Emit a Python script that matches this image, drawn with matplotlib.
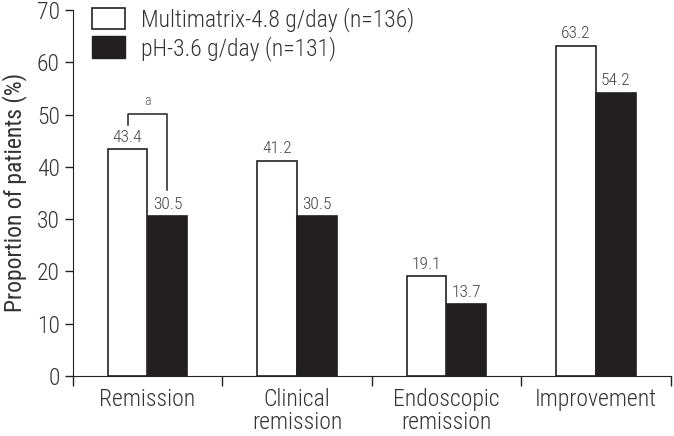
import matplotlib.pyplot as plt
from matplotlib.patches import Patch
import numpy as np

plt.rcParams['font.family'] = ['Roboto Condensed', 'Roboto', 'DejaVu Sans']
plt.rcParams['font.weight'] = 'light'

categories = ['Remission', 'Clinical\nremission', 'Endoscopic\nremission', 'Improvement']
multimatrix = [43.4, 41.2, 19.1, 63.2]
ph = [30.5, 30.5, 13.7, 54.2]
legend_labels = ['Multimatrix-4.8 g/day (n=136)', 'pH-3.6 g/day (n=131)']

txt = '#333333'
fig = plt.figure(figsize=(6.74, 4.36), dpi=100)
ax = fig.add_axes([0.108, 0.138, 0.887, 0.839])

centers = np.arange(len(categories)) + 0.5
w = 0.265
off = 0.133
ax.bar(centers - off, multimatrix, w, color='white', edgecolor='#222222', linewidth=1.2)
ax.bar(centers + off, ph, w, color='#231f20', edgecolor='#231f20', linewidth=1.2)

for c, a, b in zip(centers, multimatrix, ph):
    ax.text(c - off, a + 0.8, f'{a:.1f}', ha='center', va='bottom', fontsize=12.5, color='#444444')
    ax.text(c + off, b + 0.8, f'{b:.1f}', ha='center', va='bottom', fontsize=12.5, color='#444444')

# significance bracket
x1, x2 = centers[0] - off, centers[0] + off
ax.plot([x1, x1, x2, x2], [48.0, 50.1, 50.1, 35.6], color='#222222', linewidth=1.1)
ax.text((x1 + x2) / 2, 51.3, 'a', ha='center', va='bottom', fontsize=10, color='#555555')

ax.set_xlim(0, 4)
ax.set_ylim(0, 70)
ax.set_yticks(np.arange(0, 71, 10))
ax.tick_params(axis='y', labelsize=17, length=6, width=1, colors='#222222', labelcolor=txt)

ax.set_xticks([0, 1, 2, 3, 4])
ax.set_xticklabels([])
ax.tick_params(axis='x', which='major', length=7, width=1, colors='#222222')
ax.set_xticks(centers, minor=True)
ax.set_xticklabels(categories, minor=True, fontsize=17, color=txt, linespacing=1.0)
ax.tick_params(axis='x', which='minor', length=0, pad=9)

ax.spines['top'].set_visible(False)
ax.spines['right'].set_visible(False)
ax.spines['left'].set_color('#222222')
ax.spines['bottom'].set_color('#222222')

ax.set_ylabel('Proportion of patients (%)', fontsize=17, color=txt, labelpad=7)

handles = [Patch(facecolor='white', edgecolor='#222222', linewidth=1.2),
           Patch(facecolor='#231f20', edgecolor='#231f20')]
ax.legend(handles, legend_labels, loc='upper left', bbox_to_anchor=(-0.003, 1.065),
          frameon=False, handlelength=1.4, handleheight=1.0,
          handletextpad=0.65, labelspacing=0.15, labelcolor=txt,
          prop={'size': 17, 'weight': 'light'})

fig.savefig('out.png', dpi=100)
